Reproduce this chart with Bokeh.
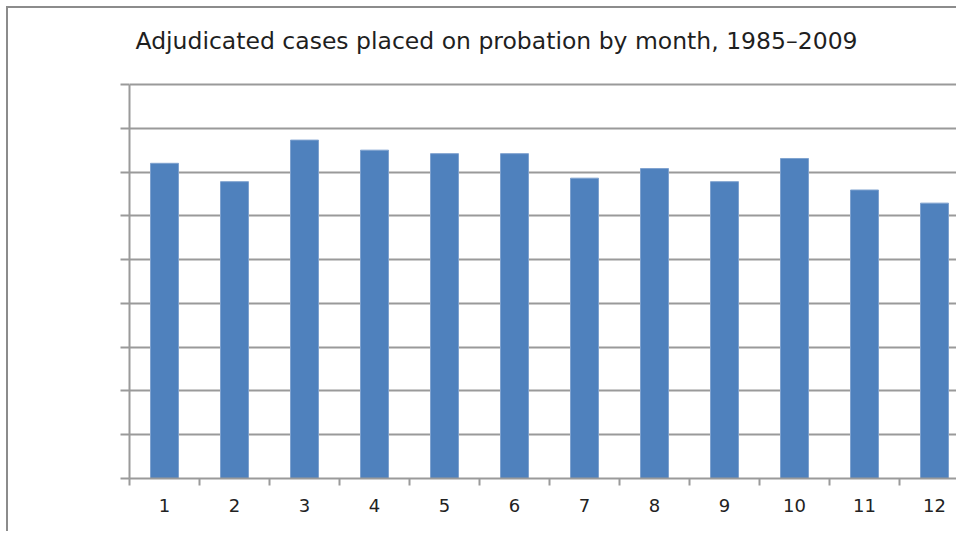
from bokeh.plotting import figure
from bokeh.models import Range1d, FixedTicker, Label
from bokeh.embed import file_html
from bokeh.resources import INLINE

months = list(range(1, 13))
month_labels = [str(m) for m in months]
cases = [720, 678, 773, 750, 742, 742, 686, 708, 678, 731, 659, 629]
y_ticks = [0, 100, 200, 300, 400, 500, 600, 700, 800, 900]
title_text = "Adjudicated cases placed on probation by month, 1985\u20132009"

GRID = "#9a9a9a"
FRAME_W = 827
FRAME_H = 458
PLOT_H = 394  # pixels from 0 to 900

p = figure(width=948, height=523, output_backend="svg", toolbar_location=None,
           x_range=Range1d(0.5, 0.5 + FRAME_W / 70),
           y_range=Range1d(0, y_ticks[-1] * FRAME_H / PLOT_H),
           min_border_left=121, min_border_right=0, min_border_top=12, min_border_bottom=53)
p.frame_width = FRAME_W
p.frame_height = FRAME_H
p.styles = {"border-left": "2px solid #8c8c8c", "border-top": "2px solid #8c8c8c",
            "margin-left": "6px", "margin-top": "6px"}
p.outline_line_color = None
p.background_fill_color = "white"
p.border_fill_color = "white"

p.add_layout(Label(x=6, y=438, x_units="screen", y_units="screen", text=title_text,
                   text_font="DejaVu Sans", text_font_size="23.5px", text_color="#1f1f1f",
                   text_baseline="alphabetic", text_align="left"))

p.vbar(x=months, top=cases, width=0.4, bottom=0,
       fill_color="#4F81BD", line_color="#7fa2cf", line_width=1)

# x axis
p.xaxis.ticker = FixedTicker(ticks=months, minor_ticks=[m + 0.5 for m in [0] + months])
p.xaxis.major_label_overrides = {m: s for m, s in zip(months, month_labels)}
p.xaxis.major_tick_line_color = None
p.xaxis.major_tick_out = 0
p.xaxis.major_tick_in = 0
p.xaxis.minor_tick_out = 7
p.xaxis.minor_tick_in = 0
p.xaxis.minor_tick_line_color = GRID
p.xaxis.minor_tick_line_width = 2
p.xaxis.axis_line_color = GRID
p.xaxis.axis_line_width = 2
p.xaxis.major_label_text_font = "DejaVu Sans"
p.xaxis.major_label_text_font_size = "18px"
p.xaxis.major_label_text_color = "#222222"
p.xaxis.major_label_standoff = 13
p.xgrid.grid_line_color = None

# y axis
p.yaxis.ticker = FixedTicker(ticks=y_ticks, minor_ticks=[])
p.yaxis.bounds = (y_ticks[0], y_ticks[-1])
p.yaxis.major_label_overrides = {t: "" for t in y_ticks}
p.yaxis.major_tick_out = 9
p.yaxis.major_tick_in = 0
p.yaxis.major_tick_line_color = GRID
p.yaxis.major_tick_line_width = 2
p.yaxis.axis_line_color = GRID
p.yaxis.axis_line_width = 2
p.ygrid.ticker = FixedTicker(ticks=y_ticks)
p.ygrid.grid_line_color = GRID
p.ygrid.grid_line_width = 2

open("out.html", "w").write(file_html(p, INLINE))
